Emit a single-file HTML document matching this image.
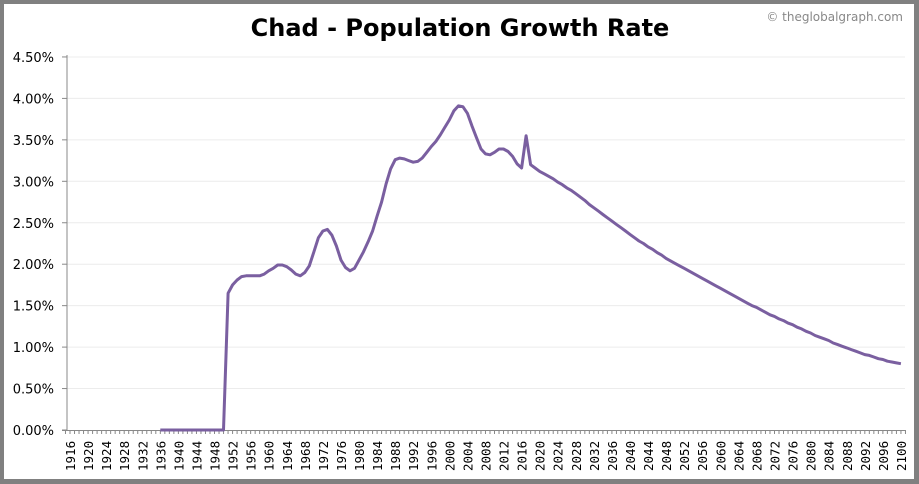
<!DOCTYPE html>
<html><head><meta charset="utf-8"><style>
body{margin:0;width:919px;height:484px;overflow:hidden;background:#fff;font-family:"Liberation Sans","DejaVu Sans",sans-serif}
#frame{position:absolute;left:0;top:0;width:919px;height:484px;box-sizing:border-box;border:4px solid #808080;border-right-width:5px;border-bottom-width:5px}
</style></head><body>
<div id="frame"></div>
<svg id="chart" width="919" height="484" style="position:absolute;left:0;top:0">
<text x="460" y="36" text-anchor="middle" font-size="24" font-weight="bold" fill="#000" font-family="DejaVu Sans, sans-serif">Chad - Population Growth Rate</text>
<text x="903" y="21" text-anchor="end" font-size="12" fill="#888" font-family="DejaVu Sans, sans-serif">© theglobalgraph.com</text>
<g id="grid"></g><g id="axes"></g><g id="series"></g>
</svg>
<script>
const yTicks=[0,0.5,1,1.5,2,2.5,3,3.5,4,4.5];
const startYear=1936;
const growthRate=[0,0,0,0,0,0,0,0,0,0,0,0,0,0,0,
1.65,1.75,1.81,1.85,1.86,1.86,1.86,1.86,1.88,1.92,1.95,1.99,1.99,1.97,1.93,1.88,1.86,1.90,1.98,2.15,2.32,2.40,2.42,2.35,2.22,2.05,1.96,1.92,1.95,2.05,2.15,2.27,2.40,2.58,2.75,2.97,3.15,3.26,3.28,3.27,3.25,3.23,3.24,3.28,3.35,3.42,3.48,3.56,3.65,3.74,3.85,3.91,3.90,3.82,3.67,3.53,3.39,3.33,3.32,3.35,3.39,3.39,3.36,3.30,3.21,3.16,3.55,3.20,3.16,
3.12,3.09,3.06,3.03,2.99,2.96,2.92,2.89,2.85,2.81,2.77,
2.72,2.68,2.64,2.60,2.56,2.52,2.48,2.44,2.40,2.36,
2.32,2.28,2.25,2.21,2.18,2.14,2.11,2.07,2.04,2.01,
1.98,1.95,1.92,1.89,1.86,1.83,1.80,1.77,1.74,1.71,
1.68,1.65,1.62,1.59,1.56,1.53,1.50,1.48,1.45,1.42,
1.39,1.37,1.34,1.32,1.29,1.27,1.24,1.22,1.19,1.17,
1.14,1.12,1.10,1.08,1.05,1.03,1.01,0.99,0.97,0.95,
0.93,0.91,0.90,0.88,0.86,0.85,0.83,0.82,0.81,0.80];
const xFirst=1916,xLast=2100,xStep=4;
const NS="http://www.w3.org/2000/svg";
function X(yr){return 70+(yr-1916)*4.516;}
function Y(v){return 430-v*82.9;}
function mk(tag,attrs,parent){const e=document.createElementNS(NS,tag);for(const k in attrs)e.setAttribute(k,attrs[k]);parent.appendChild(e);return e;}
const grid=document.getElementById('grid'),axes=document.getElementById('axes'),series=document.getElementById('series');
yTicks.forEach(t=>{
  if(t>0){const g=mk('line',{x1:67,x2:905,y1:Y(t),y2:Y(t),stroke:'#ececec','stroke-width':1},grid);
  
  }
  const tk=mk('line',{x1:62,x2:67,y1:Y(t),y2:Y(t),stroke:'#888'},axes);
  
  
  const l=mk('text',{x:54,y:Y(t)+5,'text-anchor':'end','font-size':13,fill:'#000','font-family':'DejaVu Sans, sans-serif'},axes);
  l.textContent=t.toFixed(2)+'%';
  
  
});
const ya=mk('line',{x1:67,x2:67,y1:55,y2:431,stroke:'#888'},axes);


const xa=mk('line',{x1:62,x2:905,y1:430.5,y2:430.5,stroke:'#888'},axes);


for(let yr=xFirst-1;yr<=xLast+1;yr++){
  const m=mk('line',{x1:X(yr),x2:X(yr),y1:430,y2:434,stroke:'#888'},axes);
  
  
}
for(let yr=xFirst;yr<=xLast;yr+=xStep){
  const l=mk('text',{x:0,y:0,transform:`translate(${X(yr)+5},${471}) rotate(-90)`,'font-size':12.5,fill:'#000','font-family':'DejaVu Sans Mono, monospace'},axes);
  l.textContent=yr;
  
  
}
const pts=growthRate.map((v,i)=>X(startYear+i).toFixed(1)+','+Y(v).toFixed(1)).join(' ');
const line=mk('polyline',{points:pts,fill:'none',stroke:'#7a5fa0','stroke-width':3,'stroke-linejoin':'round'},series);


</script>
</body></html>
